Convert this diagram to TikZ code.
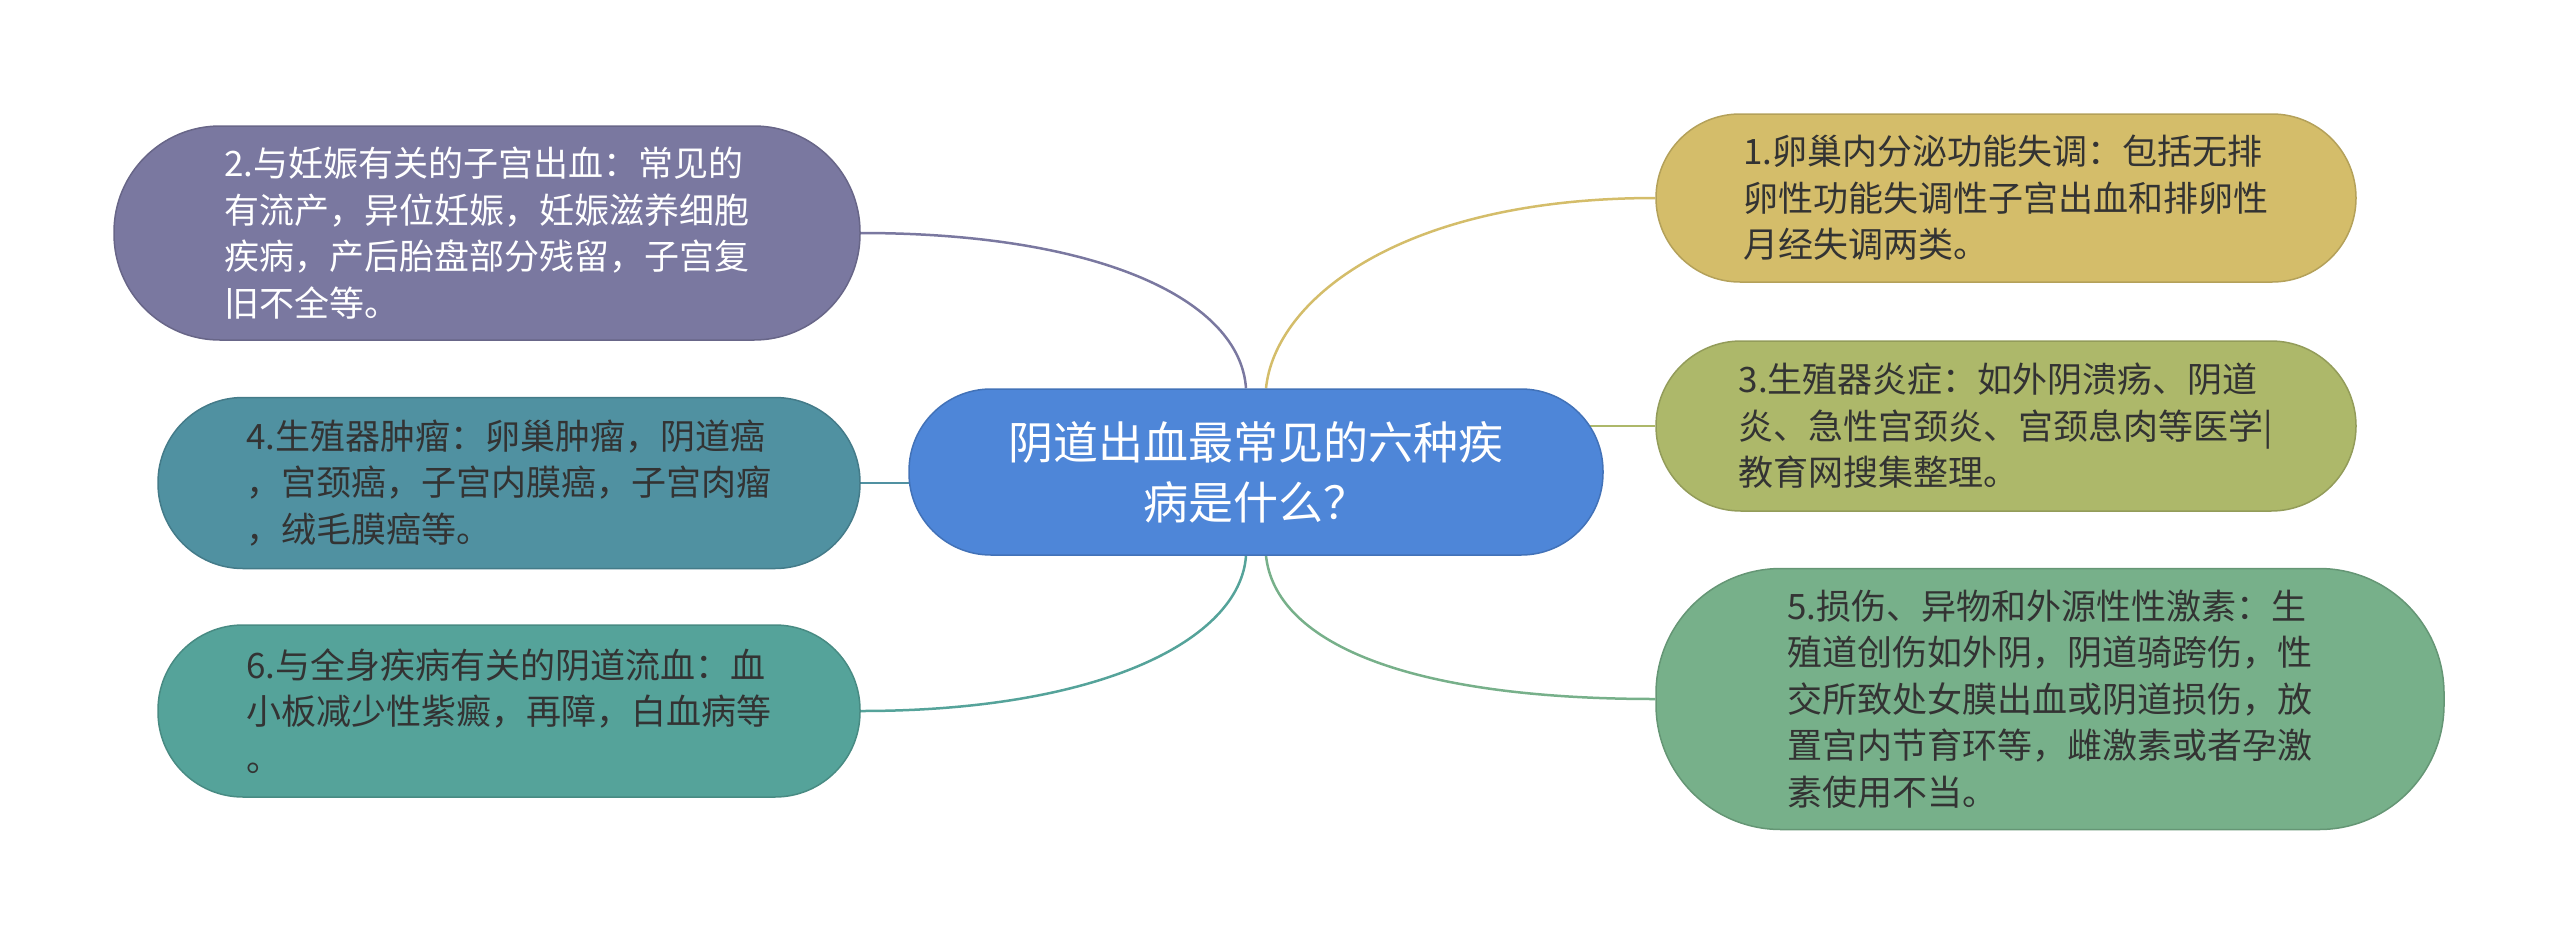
\documentclass[tikz,border=0pt]{standalone}
\usepackage{fontspec}
\newfontfamily\cjk{Noto Sans CJK SC}
\usetikzlibrary{backgrounds}
\definecolor{cpurple}{HTML}{7A78A0}
\definecolor{cteal}{HTML}{5091A1}
\definecolor{cgreenteal}{HTML}{55A39A}
\definecolor{cblue}{HTML}{4E86D8}
\definecolor{cgold}{HTML}{D4BD6A}
\definecolor{colive}{HTML}{ADB86A}
\definecolor{cgreen}{HTML}{77B08A}
\definecolor{ctext}{HTML}{333333}
\begin{document}
\begin{tikzpicture}[x=1pt,y=-1pt,
  topic/.style={draw=#1!85!black, fill=#1, line width=1.5pt, align=left, inner sep=0pt,
    font=\cjk\fontsize{35}{46.5}\selectfont, text=ctext},
  link/.style={draw=#1, line width=2.5pt},
  central/.style={draw=cblue!85!black, fill=cblue, line width=1.5pt, align=center, inner sep=0pt,
    font=\cjk\fontsize{45}{60}\selectfont, text=white,
    minimum width=694pt, minimum height=166pt, rounded corners=82pt}]
\useasboundingbox (0,0) rectangle (2560,943);

\node[central] (c) at (1256,472) {阴道出血最常见的六种疾\\病是什么？};

\node[topic=cpurple, text=white, minimum width=746pt, minimum height=214pt, rounded corners=106pt] (n2) at (487,233)
  {2.与妊娠有关的子宫出血：常见的\\有流产，异位妊娠，妊娠滋养细胞\\疾病，产后胎盘部分残留，子宫复\\旧不全等。};
\node[topic=cteal, minimum width=702pt, minimum height=171pt, rounded corners=85pt] (n4) at (509,483)
  {4.生殖器肿瘤：卵巢肿瘤，阴道癌\\，宫颈癌，子宫内膜癌，子宫肉瘤\\，绒毛膜癌等。};
\node[topic=cgreenteal, minimum width=702pt, minimum height=172pt, rounded corners=85pt] (n6) at (509,711)
  {6.与全身疾病有关的阴道流血：血\\小板减少性紫癜，再障，白血病等\\。};
\node[topic=cgold, minimum width=700pt, minimum height=168pt, rounded corners=84pt] (n1) at (2006,198)
  {1.卵巢内分泌功能失调：包括无排\\卵性功能失调性子宫出血和排卵性\\月经失调两类。};
\node[topic=colive, minimum width=700pt, minimum height=170pt, rounded corners=85pt] (n3) at (2006,426)
  {3.生殖器炎症：如外阴溃疡、阴道\\炎、急性宫颈炎、宫颈息肉等医学|\\教育网搜集整理。};
\node[topic=cgreen, minimum width=788pt, minimum height=261pt, rounded corners=125pt] (n5) at (2050,699)
  {5.损伤、异物和外源性性激素：生\\殖道创伤如外阴，阴道骑跨伤，性\\交所致处女膜出血或阴道损伤，放\\置宫内节育环等，雌激素或者孕激\\素使用不当。};

\begin{scope}[on background layer]
  \draw[link=cpurple] (n2.east) .. controls (1100,233) and (1240,300) .. ([xshift=-10pt]c.north);
  \draw[link=cteal] (n4.east) -- (c.center |- n4.east);
  \draw[link=cgreenteal] (n6.east) .. controls (1100,711) and (1240,640) .. ([xshift=-10pt]c.south);
  \draw[link=cgold] ([xshift=10pt]c.north) .. controls (1275,300) and (1400,198) .. (n1.west);
  \draw[link=colive] (n3.west) -- (c.center |- n3.west);
  \draw[link=cgreen] ([xshift=10pt]c.south) .. controls (1275,640) and (1400,699) .. (n5.west);
\end{scope}
\end{tikzpicture}
\end{document}
